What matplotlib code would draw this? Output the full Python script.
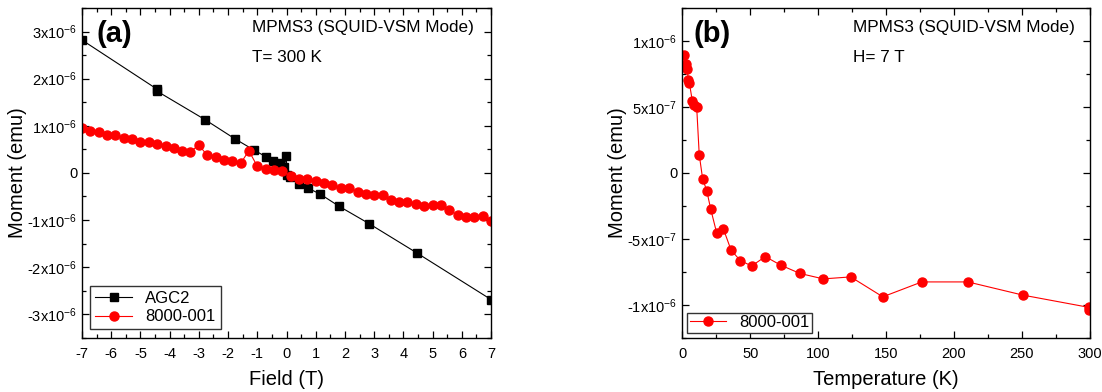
import matplotlib
matplotlib.use('Agg')
import matplotlib.pyplot as plt
from matplotlib.ticker import MultipleLocator, FuncFormatter

plt.rcParams['font.family'] = ['Liberation Sans', 'DejaVu Sans']
plt.rcParams['mathtext.fontset'] = 'custom'
plt.rcParams['mathtext.rm'] = 'Liberation Sans'
plt.rcParams['mathtext.it'] = 'Liberation Sans'
plt.rcParams['axes.unicode_minus'] = False

# panel (a): moment vs field at 300 K
agc2_field = [-7.0, -4.44, -4.42, -2.79, -1.76, -1.13, -0.70, -0.45, -0.22, -0.08,
              -0.01, 0.02, 0.12, 0.44, 0.72, 1.15, 1.80, 2.83, 4.46, 7.0]
agc2_moment = [2.82, 1.78, 1.73, 1.13, 0.72, 0.49, 0.34, 0.25, 0.21, 0.12,
               0.35, -0.04, -0.08, -0.23, -0.32, -0.45, -0.71, -1.08, -1.70, -2.69]

s8000_field = [-7.00, -6.71, -6.43, -6.14, -5.86, -5.57, -5.29, -5.00, -4.71, -4.43,
               -4.14, -3.86, -3.57, -3.29, -3.00, -2.71, -2.43, -2.14, -1.86, -1.57,
               -1.29, -1.00, -0.71, -0.43, -0.14, 0.14, 0.43, 0.71, 1.00, 1.29,
               1.57, 1.86, 2.14, 2.43, 2.71, 3.00, 3.29, 3.57, 3.86, 4.14,
               4.43, 4.71, 5.00, 5.29, 5.57, 5.86, 6.14, 6.43, 6.71, 7.00]
s8000_moment = [0.955, 0.88, 0.86, 0.81, 0.80, 0.74, 0.72, 0.65, 0.65, 0.61,
                0.56, 0.52, 0.47, 0.45, 0.59, 0.37, 0.33, 0.28, 0.25, 0.20,
                0.47, 0.14, 0.085, 0.055, 0.034, -0.07, -0.13, -0.14, -0.18, -0.22,
                -0.26, -0.32, -0.32, -0.40, -0.45, -0.48, -0.48, -0.58, -0.62, -0.62,
                -0.67, -0.71, -0.69, -0.69, -0.79, -0.90, -0.93, -0.94, -0.91, -1.03]

# panel (b): moment vs temperature at 7 T
temp = [1.3, 2.7, 3.7, 4.4, 5.2, 7.4, 8.8, 10.6, 12.5, 15.0, 18.0, 21.0, 25.3, 30.2,
        35.9, 42.7, 51.1, 61.1, 72.5, 86.7, 103.8, 124.0, 147.6, 176.3, 210.2, 250.7,
        299.3, 299.5]
moment_t = [0.894, 0.824, 0.79, 0.705, 0.685, 0.546, 0.516, 0.503, 0.138, -0.045,
            -0.134, -0.277, -0.454, -0.423, -0.585, -0.665, -0.706, -0.635, -0.70,
            -0.763, -0.804, -0.789, -0.940, -0.827, -0.827, -0.927, -1.02, -1.04]

a_yticks = [-3, -2, -1, 0, 1, 2, 3]
b_yticks = [-10, -5, 0, 5, 10]


def fmt_a(v, pos):
    n = int(round(v * 1e6))
    if n == 0:
        return '0'
    return '%dx10$^{-6}$' % n


def fmt_b(v, pos):
    n = int(round(v * 1e7))
    if n == 0:
        return '0'
    if abs(n) == 10:
        return '%dx10$^{-6}$' % (n // 10)
    return '%dx10$^{-7}$' % n


def style_axis(ax):
    ax.tick_params(which='both', direction='in', top=True, right=True, labelsize=10.5)
    ax.tick_params(axis='x', which='major', pad=7)
    ax.tick_params(which='major', length=5, width=0.9)
    ax.tick_params(which='minor', length=3, width=0.9)
    for s in ax.spines.values():
        s.set_linewidth(1.0)


fig = plt.figure(figsize=(11.02, 3.92), dpi=100)
ax1 = fig.add_axes([0.0744, 0.1385, 0.3712, 0.8411])
ax2 = fig.add_axes([0.6191, 0.1385, 0.3699, 0.8411])

ax1.plot(agc2_field, [m * 1e-6 for m in agc2_moment], color='black', marker='s',
         ms=6, lw=0.8, label='AGC2')
ax1.plot(s8000_field, [m * 1e-6 for m in s8000_moment], color='red', marker='o',
         ms=6.5, lw=0.8, label='8000-001')
ax1.set_xlim(-7, 7)
ax1.set_ylim(-3.5e-6, 3.5e-6)
ax1.xaxis.set_major_locator(MultipleLocator(1))
ax1.xaxis.set_minor_locator(MultipleLocator(0.5))
ax1.set_yticks([t * 1e-6 for t in a_yticks])
ax1.yaxis.set_minor_locator(MultipleLocator(0.5e-6))
ax1.yaxis.set_major_formatter(FuncFormatter(fmt_a))
ax1.set_xlabel('Field (T)', fontsize=14.5, labelpad=6)
ax1.set_ylabel('Moment (emu)', fontsize=14.5, labelpad=0)
style_axis(ax1)
ax1.text(0.036, 0.965, '(a)', transform=ax1.transAxes, fontsize=21, fontweight='bold',
         va='top', ha='left')
ax1.text(0.415, 0.94, 'MPMS3 (SQUID-VSM Mode)', transform=ax1.transAxes,
         fontsize=12.3, va='center', ha='left')
ax1.text(0.415, 0.85, 'T= 300 K', transform=ax1.transAxes,
         fontsize=12.3, va='center', ha='left')
leg1 = ax1.legend(loc='lower left', fontsize=12, fancybox=False, edgecolor='#333333',
                  handlelength=2.2, borderaxespad=0.5, framealpha=1,
                  borderpad=0.3, labelspacing=0.2)
leg1.get_frame().set_linewidth(1.0)

ax2.plot(temp, [m * 1e-6 for m in moment_t], color='red', marker='o', ms=6.5, lw=0.8,
         label='8000-001')
ax2.set_xlim(0, 300)
ax2.set_ylim(-1.25e-6, 1.25e-6)
ax2.xaxis.set_major_locator(MultipleLocator(50))
ax2.xaxis.set_minor_locator(MultipleLocator(25))
ax2.set_yticks([t * 1e-7 for t in b_yticks])
ax2.yaxis.set_minor_locator(MultipleLocator(2.5e-7))
ax2.yaxis.set_major_formatter(FuncFormatter(fmt_b))
ax2.set_xlabel('Temperature (K)', fontsize=14.5, labelpad=6)
ax2.set_ylabel('Moment (emu)', fontsize=14.5, labelpad=0)
style_axis(ax2)
ax2.text(0.028, 0.965, '(b)', transform=ax2.transAxes, fontsize=21, fontweight='bold',
         va='top', ha='left')
ax2.text(0.42, 0.94, 'MPMS3 (SQUID-VSM Mode)', transform=ax2.transAxes,
         fontsize=12.3, va='center', ha='left')
ax2.text(0.42, 0.85, 'H= 7 T', transform=ax2.transAxes,
         fontsize=12.3, va='center', ha='left')
leg2 = ax2.legend(loc='lower left', fontsize=12, fancybox=False, edgecolor='#333333',
                  handlelength=2.2, borderaxespad=0.3, framealpha=1,
                  borderpad=0.15, labelspacing=0.2)
leg2.get_frame().set_linewidth(1.0)

fig.savefig('out.png', dpi=100)
